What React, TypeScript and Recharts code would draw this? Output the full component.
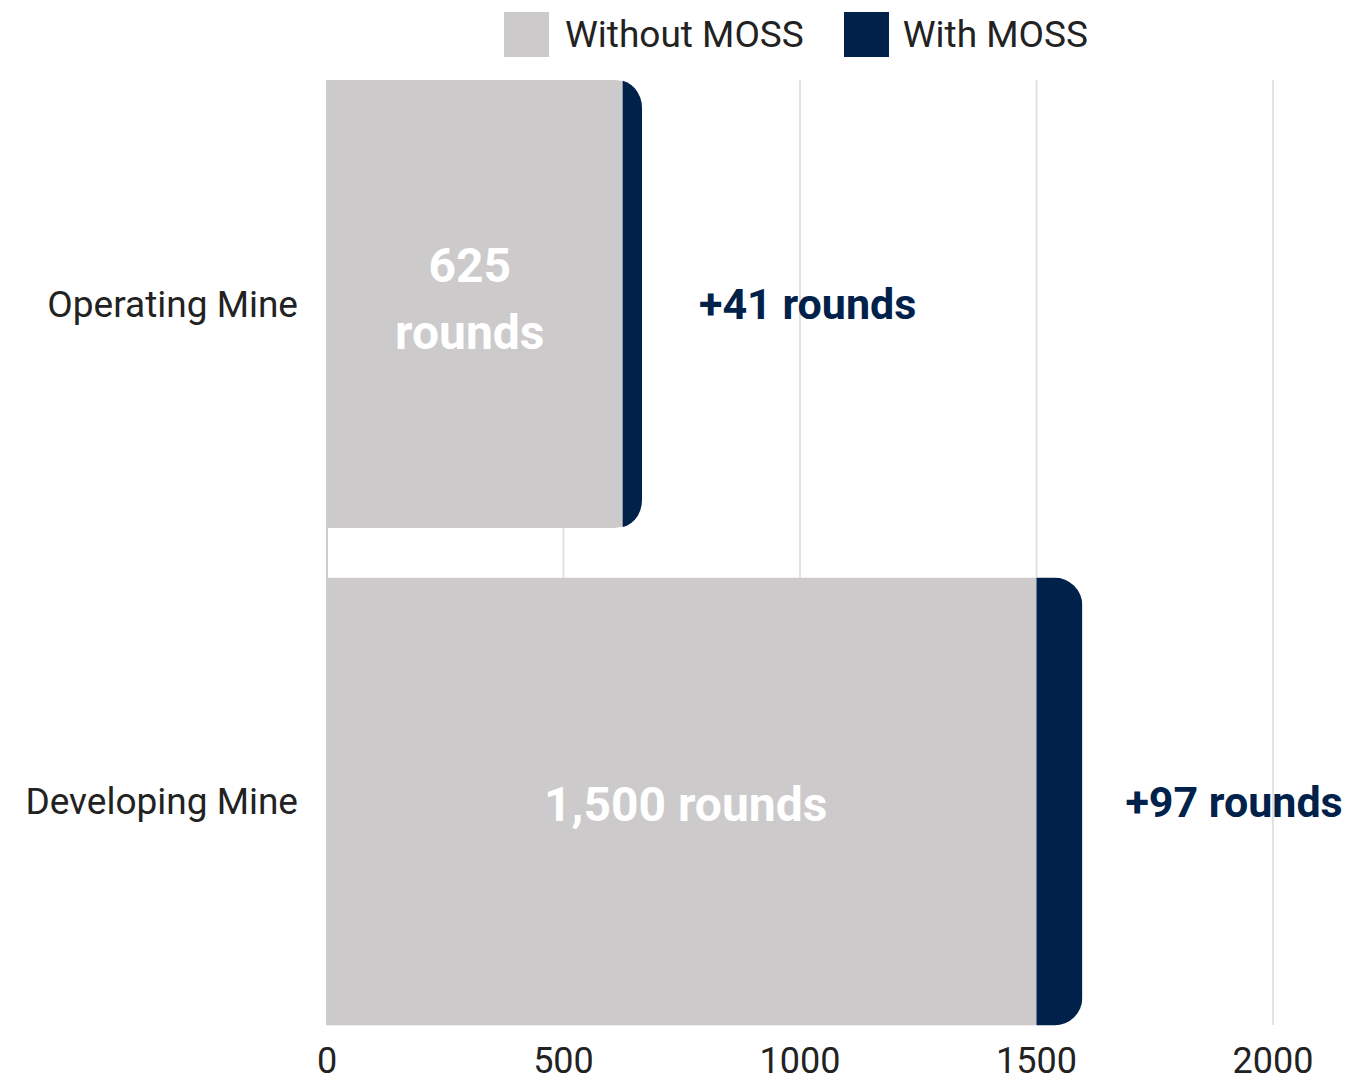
import React from "react";
import { BarChart, Bar, XAxis, YAxis, CartesianGrid, Legend, LabelList } from "recharts";

const categories = ["Operating Mine", "Developing Mine"];
const withoutMoss = [625, 1500];
const withMoss = [41, 97];
const xTicks = [0, 500, 1000, 1500, 2000];
const seriesNames = ["Without MOSS", "With MOSS"];

const GRAY = "#cccacb";
const NAVY = "#00214a";
const TEXT = "#222222";
const FONT = "Roboto, 'DejaVu Sans', sans-serif";
const R = 28;
const extraLabelOffsets = [57, 43];

const data = categories.map((name, i) => ({
  name,
  without: withoutMoss[i],
  with: withMoss[i],
}));

const GrayShape = (props: any) => {
  const { x, y, width, height, payload, index } = props;
  const fullEnd = x + width * (1 + payload.with / payload.without);
  const id = `clip-gray-${index}`;
  const cx0 = x - R - 2;
  return (
    <g>
      <defs>
        <clipPath id={id}>
          <rect x={cx0} y={y} width={fullEnd - cx0} height={height} rx={R} ry={R} />
        </clipPath>
      </defs>
      <rect x={x} y={y} width={width} height={height} fill={GRAY} clipPath={`url(#${id})`} />
    </g>
  );
};

const NavyShape = (props: any) => {
  const { x, y, width, height, index } = props;
  const id = `clip-navy-${index}`;
  const cx0 = x - R - 2;
  return (
    <g>
      <defs>
        <clipPath id={id}>
          <rect x={cx0} y={y} width={x + width - cx0} height={height} rx={R} ry={R} />
        </clipPath>
      </defs>
      <rect x={x} y={y} width={width} height={height} fill={NAVY} clipPath={`url(#${id})`} />
    </g>
  );
};

const WhiteLabel = (props: any) => {
  const { x, y, width, height, value } = props;
  const cx = x + width / 2;
  const cy = y + height / 2;
  const num = Number(value).toLocaleString("en-US");
  const style = { fontFamily: FONT, fontWeight: 700, fontSize: 48, fill: "#ffffff" } as any;
  if (width < 400) {
    return (
      <g>
        <text x={cx - 5} y={cy - 22} textAnchor="middle" style={style}>{num}</text>
        <text x={cx - 5} y={cy + 45} textAnchor="middle" style={style}>rounds</text>
      </g>
    );
  }
  return (
    <text x={cx + 4} y={cy + 19} textAnchor="middle" style={style}>{`${num} rounds`}</text>
  );
};

const NavyLabel = (props: any) => {
  const { x, y, width, height, value, index } = props;
  const cy = y + height / 2;
  return (
    <text
      x={x + width + extraLabelOffsets[index]}
      y={cy + 15}
      textAnchor="start"
      style={{ fontFamily: FONT, fontWeight: 700, fontSize: 43, fill: NAVY } as any}
    >{`+${value} rounds`}</text>
  );
};

const LegendContent = () => (
  <div style={{ height: 80, width: 1353, fontFamily: FONT, fontSize: 37, color: TEXT, position: "relative" }}>
    <div style={{ display: "flex", alignItems: "center", paddingLeft: 504, paddingTop: 12, height: 45 }}>
      <div style={{ width: 45, height: 45, background: GRAY }} />
      <span style={{ marginLeft: 16, lineHeight: "45px", whiteSpace: "nowrap" }}>{seriesNames[0]}</span>
      <div style={{ width: 45, height: 45, background: NAVY, marginLeft: 40 }} />
      <span style={{ marginLeft: 14, lineHeight: "45px", whiteSpace: "nowrap" }}>{seriesNames[1]}</span>
    </div>
  </div>
);

export default function App() {
  return (
    <div style={{ position: "absolute", left: 0, top: 0, width: 1353, height: 1081, background: "#fff", fontFamily: FONT }}>
      <BarChart
        layout="vertical"
        width={1353}
        height={1081}
        data={data}
        margin={{ top: 0, right: 80, bottom: 0, left: 0 }}
        barCategoryGap={25}
      >
        <CartesianGrid horizontal={false} stroke="#e3e3e3" strokeWidth={2} />
        <Legend verticalAlign="top" align="left" content={<LegendContent />} wrapperStyle={{ top: 0, left: 0 }} />
        <XAxis
          type="number"
          domain={[0, 2000]}
          ticks={xTicks}
          height={56}
          tickLine={false}
          axisLine={false}
          tickSize={0}
          tickMargin={22}
          tick={{ fontSize: 36, fill: TEXT, fontFamily: FONT }}
        />
        <YAxis
          type="category"
          dataKey="name"
          width={327}
          tickLine={false}
          tickSize={0}
          tickMargin={29}
          axisLine={{ stroke: "#cccccc", strokeWidth: 2 }}
          padding={{ top: -25, bottom: -25 }}
          tick={{ fontSize: 37, fill: TEXT, fontFamily: FONT }}
        />
        <Bar dataKey="without" name={seriesNames[0]} stackId="a" fill={GRAY} shape={<GrayShape />} isAnimationActive={false}>
          <LabelList dataKey="without" content={<WhiteLabel />} />
        </Bar>
        <Bar dataKey="with" name={seriesNames[1]} stackId="a" fill={NAVY} shape={<NavyShape />} isAnimationActive={false}>
          <LabelList dataKey="with" content={<NavyLabel />} />
        </Bar>
      </BarChart>
    </div>
  );
}
